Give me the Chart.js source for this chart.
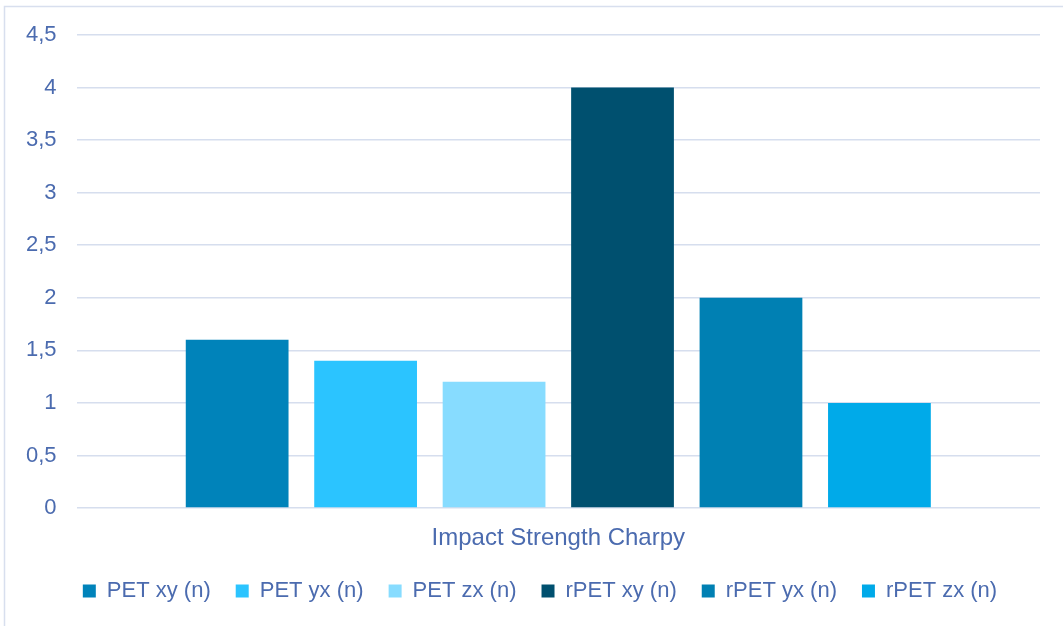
<!DOCTYPE html>
<html>
<head>
<meta charset="utf-8">
<script src="https://cdn.jsdelivr.net/npm/chart.js@4/dist/chart.umd.min.js"></script>
<style>
html,body{margin:0;padding:0;background:#fff;}
#wrap{width:1063px;height:626px;position:relative;}
</style>
</head>
<body>
<div id="wrap"><canvas id="c" width="1063" height="626"></canvas></div>
<script>
const categories = ["Impact Strength Charpy"];
const seriesNames = ["PET xy (n)", "PET yx (n)", "PET zx (n)", "rPET xy (n)", "rPET yx (n)", "rPET zx (n)"];
const seriesValues = [[1.6], [1.4], [1.2], [4.0], [2.0], [1.0]];
const seriesColors = ["#0083BA", "#2BC4FF", "#87DCFF", "#00506F", "#0080B3", "#00AAE9"];
const yTicks = [0, 0.5, 1, 1.5, 2, 2.5, 3, 3.5, 4, 4.5];

const textColor = "#4B6BAF";
const gridColor = "#D6DEEE";
const fontFamily = "'Liberation Sans', Arial, Helvetica, sans-serif";

const borderPlugin = {
  id: 'outerBorder',
  beforeDraw(chart) {
    const ctx = chart.ctx;
    ctx.save();
    ctx.strokeStyle = "#D8DFEE";
    ctx.lineWidth = 1.5;
    ctx.beginPath();
    ctx.moveTo(4.5, chart.height + 5);
    ctx.lineTo(4.5, 6.5);
    ctx.lineTo(chart.width + 5, 6.5);
    ctx.stroke();
    ctx.restore();
  }
};

const legendShift = {
  id: 'legendShift',
  afterLayout(chart) {
    const lg = chart.legend;
    if (lg) { lg.left += 17; lg.right += 17; }
  }
};

new Chart(document.getElementById('c'), {
  type: 'bar',
  data: {
    labels: categories,
    datasets: seriesNames.map((n, i) => ({
      label: n,
      data: seriesValues[i],
      backgroundColor: seriesColors[i],
      borderWidth: 0,
      categoryPercentage: 0.8,
      barPercentage: 0.8
    }))
  },
  options: {
    responsive: false,
    animation: false,
    devicePixelRatio: 1,
    layout: { padding: { left: 6, right: 23, top: 35, bottom: 14 } },
    plugins: {
      tooltip: { enabled: false },
      legend: {
        position: 'bottom',
        labels: {
          boxWidth: 13,
          boxHeight: 13,
          padding: 25,
          color: textColor,
          font: { family: fontFamily, size: 22 }
        }
      }
    },
    scales: {
      x: {
        grid: { display: false, drawTicks: false },
        border: { display: false },
        ticks: { color: textColor, font: { family: fontFamily, size: 24, lineHeight: '21px' }, padding: 20 },
        afterFit(scale) { scale.height = 47; }
      },
      y: {
        min: 0,
        max: 4.5,
        afterBuildTicks(axis) { axis.ticks = yTicks.map(v => ({ value: v })); },
        grid: { color: gridColor, lineWidth: 1.5, drawTicks: false },
        border: { display: false },
        ticks: {
          color: textColor,
          font: { family: fontFamily, size: 22 },
          padding: 20,
          callback: v => String(v).replace('.', ',')
        }
      }
    }
  },
  plugins: [borderPlugin, legendShift]
});
</script>
</body>
</html>
